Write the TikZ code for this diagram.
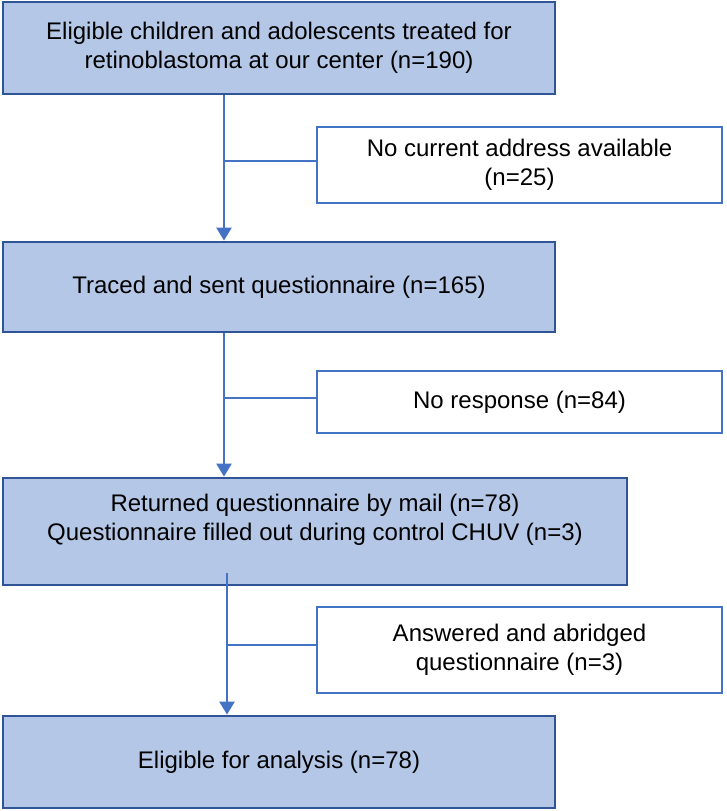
\documentclass[tikz,border=0pt]{standalone}
\usepackage{fontspec}
\setmainfont{Liberation Sans}
\usetikzlibrary{arrows.meta}
\definecolor{boxfill}{HTML}{B4C7E7}
\definecolor{boxdraw}{HTML}{2F5597}
\definecolor{linkblue}{HTML}{4472C4}
\begin{document}
\begin{tikzpicture}[x=1pt,y=-1pt,
  every node/.style={font=\fontsize{24}{29}\selectfont, align=center, inner sep=0pt},
  mainbox/.style={draw=boxdraw, fill=boxfill, line width=2.8pt, minimum width=552pt},
  sidebox/.style={draw=linkblue, fill=white, line width=2.8pt, minimum width=405pt},
  link/.style={draw=linkblue, line width=2.6pt},
  arrowlink/.style={link, -{Triangle[width=15pt,length=13pt]}}]
\useasboundingbox (0,0) rectangle (726,811);
\node[mainbox, minimum height=92pt] (b1) at (279,48)
  {Eligible children and adolescents treated for\\retinoblastoma at our center (n=190)};
\node[sidebox, minimum height=76pt] (s1) at (519.5,165)
  {No current address available\\(n=25)};
\node[mainbox, minimum height=90pt] (b2) at (279,287)
  {Traced and sent questionnaire (n=165)};
\node[sidebox, minimum height=62pt] (s2) at (519.5,402)
  {No response (n=84)};
\node[mainbox, minimum width=624pt, minimum height=107pt] (b3) at (315,531.5)
  {Returned questionnaire by mail (n=78)\\Questionnaire filled out during control CHUV (n=3)\\\mbox{}};
\node[sidebox, minimum height=86pt] (s3) at (519.5,650)
  {Answered and abridged\\questionnaire (n=3)};
\node[mainbox, minimum height=92pt] (b4) at (279,762)
  {Eligible for analysis (n=78)};
\coordinate (xa) at (224,0);
\coordinate (xb) at (227,0);
\coordinate (c3) at (227,573);
\draw[arrowlink] (b1.south -| xa) -- (b2.north -| xa);
\draw[link] ([yshift=4pt]s1.west -| xa) -- ([yshift=4pt]s1.west);
\draw[arrowlink] (b2.south -| xa) -- (b3.north -| xa);
\draw[link] ([yshift=4pt]s2.west -| xa) -- ([yshift=4pt]s2.west);
\draw[arrowlink] (c3) -- (b4.north -| xb);
\draw[link] ([yshift=5pt]s3.west -| xb) -- ([yshift=5pt]s3.west);
\end{tikzpicture}
\end{document}
